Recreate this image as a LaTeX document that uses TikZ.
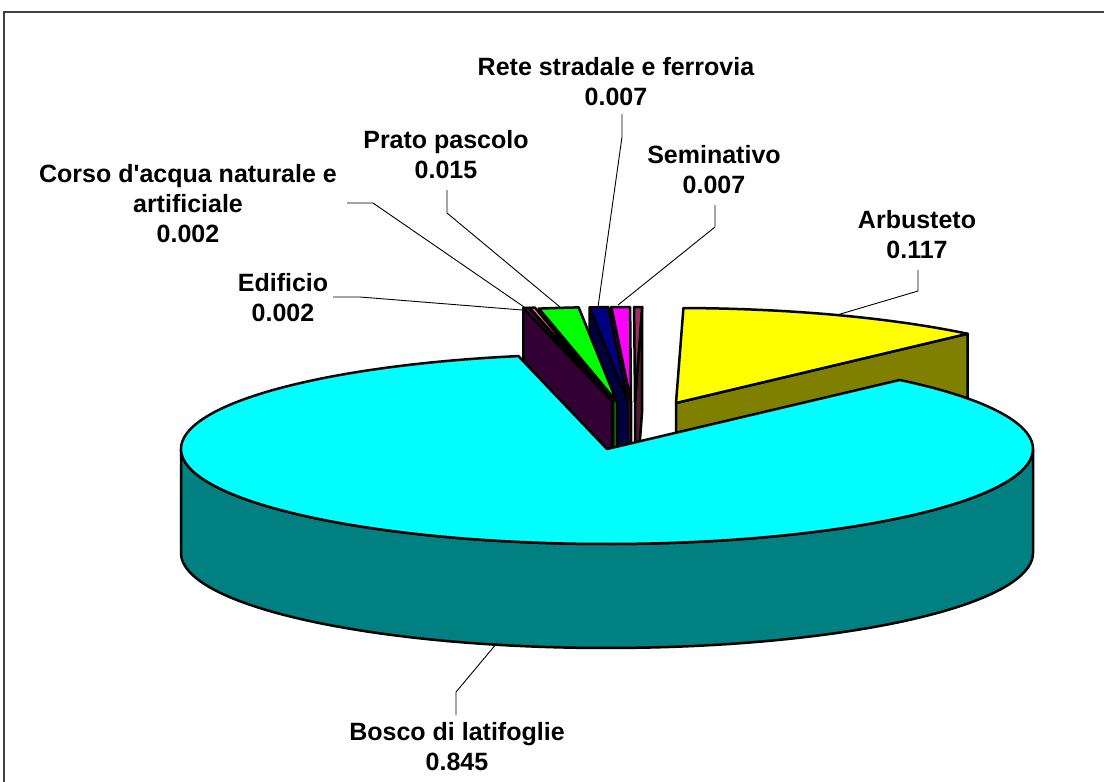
\documentclass[tikz,border=0pt]{standalone}
\usepackage{fontspec}
\setmainfont{Liberation Sans}[Ligatures=TeXOff]
\usepackage{tikz}
\usetikzlibrary{positioning, calc}

% colori delle fette (faccia superiore / faccia laterale)
\definecolor{bosco}{HTML}{00FFFF}
\definecolor{boscolato}{HTML}{008080}
\definecolor{arbusti}{HTML}{FFFF00}
\definecolor{arbustilato}{HTML}{808000}
\definecolor{edificio}{HTML}{660066}
\definecolor{edificiolato}{HTML}{330033}
\definecolor{acqua}{HTML}{FF8080}
\definecolor{acqualato}{HTML}{804040}
\definecolor{prato}{HTML}{00FF00}
\definecolor{pratolato}{HTML}{008000}
\definecolor{strade}{HTML}{000080}
\definecolor{stradelato}{HTML}{000040}
\definecolor{semin}{HTML}{FF00FF}
\definecolor{seminlato}{HTML}{800080}
\definecolor{altro}{HTML}{993366}
\definecolor{altrolato}{HTML}{4D1A33}

\tikzset{
    fetta/.style={draw=black, line width=2.5pt, line join=round},
    guida/.style={draw=black, line width=0.9pt},
    etichetta/.style={font=\fontsize{25}{30}\selectfont\bfseries, align=center, inner sep=0pt}
}

% fetta piccola esplosa: vertice x, vertice y, angolo da, angolo a, colore sopra, colore lato
\newcommand{\fettina}[6]{%
    \filldraw[fetta, fill=#6] (#1,#2) -- ({#1+426*cos(#4)},{#2-95*sin(#4)}) -- ({#1+426*cos(#4)},{#2+104-95*sin(#4)}) -- (#1,#2+104) -- cycle;
    \filldraw[fetta, fill=#5] (#1,#2) -- plot[domain=#3:#4, samples=12] ({#1+426*cos(\x)},{#2-95*sin(\x)}) -- cycle;
}

\begin{document}
\begin{tikzpicture}[x=1pt, y=-1pt]
    \useasboundingbox (0,0) rectangle (1104,782);
    % cornice
    \draw[line width=1.5pt, black!75] (4,12) rectangle (1130,810);

    % fette piccole, da destra verso sinistra
    \filldraw[fetta, fill=altrolato] (635,402) -- ({635+426*cos(89.04)},{402-95*sin(89.04)}) -- ++(0,104) -- (635,506) -- cycle;
    \filldraw[fetta, fill=altro] (635,402) -- plot[domain=89.04:90.12, samples=4] ({635+426*cos(\x)},{402-95*sin(\x)}) -- cycle;
    \fettina{631}{402}{90.12}{92.64}{semin}{seminlato}
    \fettina{628}{402}{92.64}{95.16}{strade}{stradelato}
    \fettina{617}{402}{95.16}{100.56}{prato}{pratolato}
    \fettina{613}{401}{100.56}{101.28}{acqua}{acqualato}
    \fettina{612}{401}{101.28}{102}{edificio}{edificiolato}

    % fetta arbusteto (esplosa)
    \filldraw[fetta, fill=arbustilato] (676,403) -- ({676+426*cos(46.8)},{403-95*sin(46.8)}) -- ++(0,104) -- (676,507) -- cycle;
    \filldraw[fetta, fill=arbusti] (676,403) -- plot[domain=46.8:89, samples=40] ({676+426*cos(\x)},{403-95*sin(\x)}) -- cycle;

    % fetta bosco: lato frontale e faccia superiore
    \filldraw[fetta, fill=boscolato] plot[domain=180:360, samples=120] ({607+426*cos(\x)},{449-95*sin(\x)}) -- plot[domain=360:180, samples=120] ({607+426*cos(\x)},{553-95*sin(\x)}) -- cycle;
    \filldraw[fetta, fill=bosco] (607,449) -- plot[domain=102:406.6, samples=200] ({607+426*cos(\x)},{449-95*sin(\x)}) -- cycle;

    % etichette
    \node[etichetta] (rete) at (616,82) {Rete stradale e ferrovia\\0.007};
    \node[etichetta] (seminativo) at (714,170) {Seminativo\\0.007};
    \node[etichetta] (prato) at (446,155) {Prato pascolo\\0.015};
    \node[etichetta] (corso) at (188,204) {Corso d'acqua naturale e\\artificiale\\0.002};
    \node[etichetta] (edificio) at (283,298) {Edificio\\0.002};
    \node[etichetta] (arbusteto) at (917,235) {Arbusteto\\0.117};
    \node[etichetta] (bosco) at (457,747) {Bosco di latifoglie\\0.845};

    % linee guida
    \coordinate (reteA) at (622,114);
    \coordinate (reteB) at (622,137);
    \coordinate (reteC) at (598,307);
    \draw[guida] (reteA) -- (reteB) -- (reteC);
    \coordinate (semA) at (715,205);
    \coordinate (semB) at (715,227);
    \coordinate (semC) at (618,305);
    \draw[guida] (semA) -- (semB) -- (semC);
    \coordinate (pratoA) at (447,190);
    \coordinate (pratoB) at (447,213);
    \coordinate (pratoC) at (560,307);
    \draw[guida] (pratoA) -- (pratoB) -- (pratoC);
    \coordinate (corsoA) at (347,203);
    \coordinate (corsoB) at (373,203);
    \coordinate (corsoC) at (527,309);
    \draw[guida] (corsoA) -- (corsoB) -- (corsoC);
    \coordinate (ediA) at (333,297);
    \coordinate (ediB) at (360,297);
    \coordinate (ediC) at (522,310);
    \draw[guida] (ediA) -- (ediB) -- (ediC);
    \coordinate (arbA) at (918,270);
    \coordinate (arbB) at (918,291);
    \coordinate (arbC) at (837,315);
    \draw[guida] (arbA) -- (arbB) -- (arbC);
    \coordinate (boscoA) at (456,715);
    \coordinate (boscoB) at (456,692);
    \coordinate (boscoC) at (497,643);
    \draw[guida] (boscoA) -- (boscoB) -- (boscoC);
\end{tikzpicture}
\end{document}
